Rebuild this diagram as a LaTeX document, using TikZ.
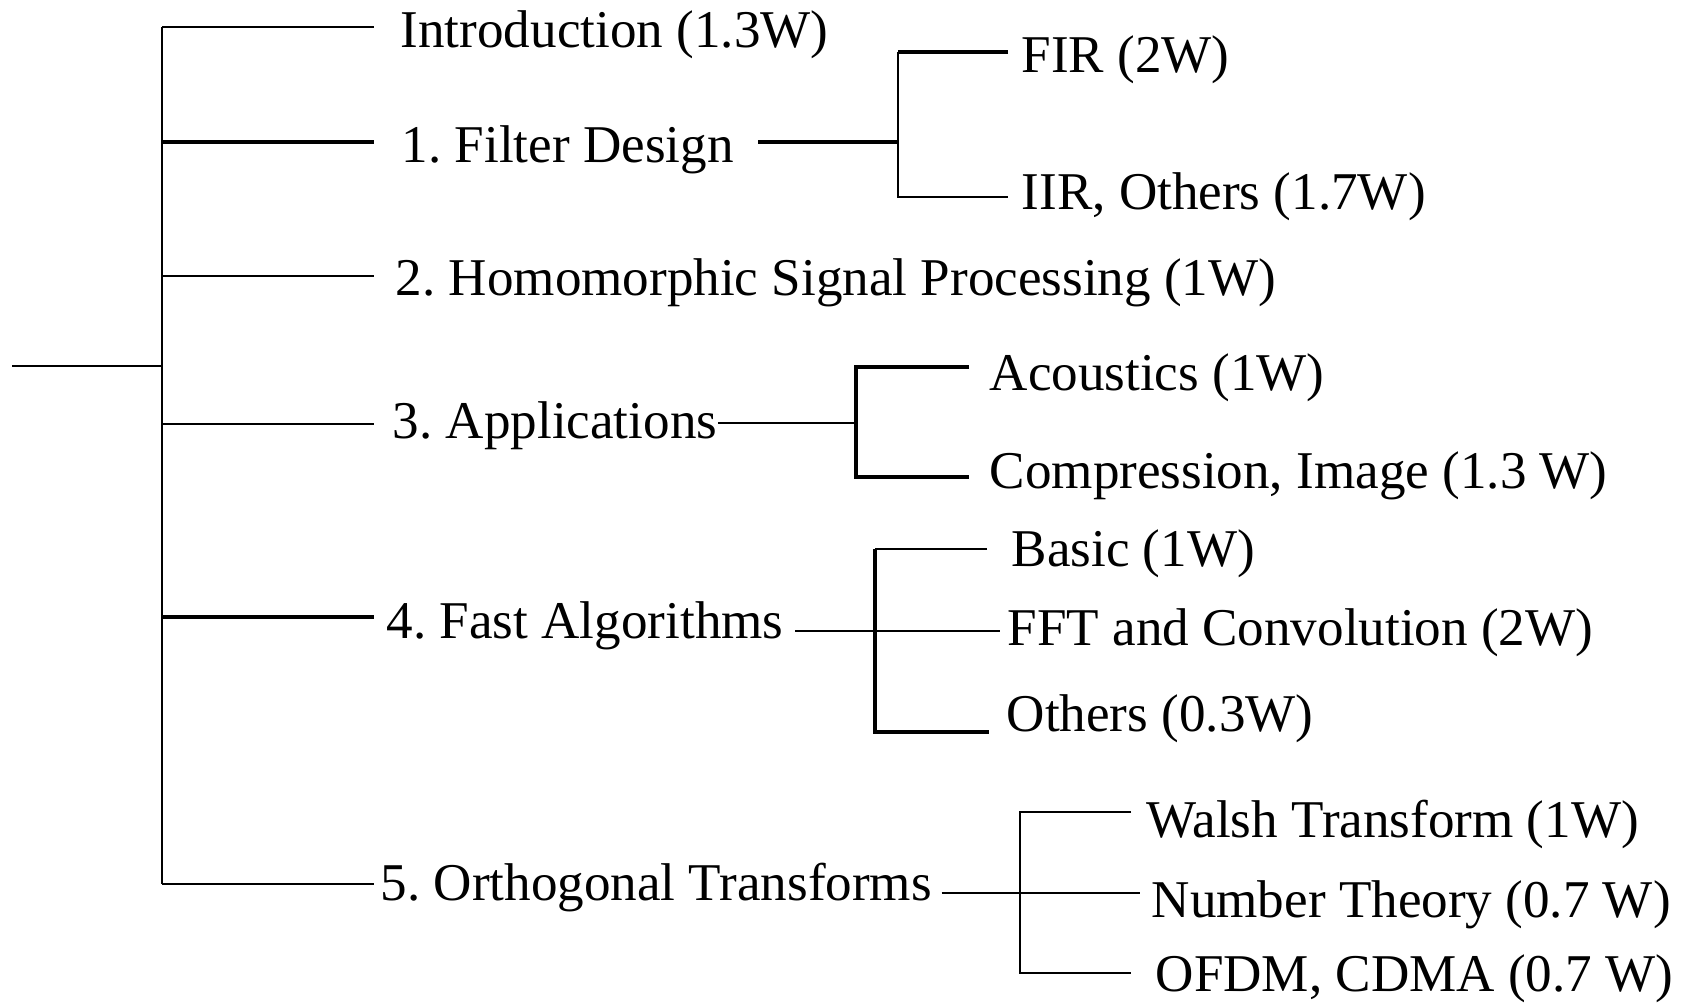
\documentclass[tikz,border=0pt]{standalone}
\usepackage{fontspec}
\setmainfont{Liberation Serif}
\usetikzlibrary{calc}
\frenchspacing

\tikzset{
    lbl/.style={anchor=base west, inner sep=0pt, font=\fontsize{15.1}{18}\selectfont},
    lnk/.style={line width=0.6pt, black},
    lnkb/.style={line width=0.9pt, black}
}

\begin{document}
\begin{tikzpicture}[x=0.01cm,y=-0.01cm]
        \useasboundingbox (0,0) rectangle (1683,1003);
        % main topics
        \node[lbl] (intro)  at (400,47)  {Introduction (1.3W)};
        \node[lbl] (filter) at (401,162) {1. Filter Design};
        \node[lbl] (homo)   at (395,295) {2. Homomorphic Signal Processing (1W)};
        \node[lbl] (appl)   at (392,438) {3. Applications};
        \node[lbl] (fast)   at (386,638) {4. Fast Algorithms};
        \node[lbl] (ortho)  at (380,900) {5. Orthogonal Transforms};
        % sub topics
        \node[lbl] (fir)   at (1021,72)  {FIR (2W)};
        \node[lbl] (iir)   at (1021,209) {IIR, Others (1.7W)};
        \node[lbl] (acou)  at (989,390)  {Acoustics (1W)};
        \node[lbl] (comp)  at (989,488)  {Compression, Image (1.3 W)};
        \node[lbl] (basic) at (1011,566) {Basic (1W)};
        \node[lbl] (fft)   at (1007,645) {FFT and Convolution (2W)};
        \node[lbl] (oth)   at (1006,731) {Others (0.3W)};
        \node[lbl] (walsh) at (1146,837) {Walsh Transform (1W)};
        \node[lbl] (numth) at (1151,917) {Number Theory (0.7 W)};
        \node[lbl] (ofdm)  at (1155,991) {OFDM, CDMA (0.7 W)};
        % trunk
        \coordinate (root) at (12,366);
        \coordinate (top) at (162,27);
        \coordinate (bot) at (162,884);
        \draw[lnk] (root) -- (top |- root);
        \draw[lnk] (top) -- (bot);
        \foreach \n/\y/\w in {intro/27/lnk, filter/142/lnkb, homo/276/lnk, appl/424/lnk, fast/617/lnkb, ortho/884/lnk} {
            \coordinate (\n-in) at (374,\y);
            \draw[\w] (top |- \n-in) -- (\n-in);
        }
        % 1
        \coordinate (fil-j) at (898,142);
        \coordinate (fir-in) at (1008,52);
        \coordinate (iir-in) at (1008,197);
        \draw[lnkb] ($(filter.east |- fil-j)+(24,0)$) -- (fil-j);
        \draw[lnkb] (fir-in) -- (fir-in -| fil-j);
        \draw[lnk] (fir-in -| fil-j) -- (iir-in -| fil-j) -- (iir-in);
        % 3
        \coordinate (app-j) at (856,423);
        \coordinate (acou-in) at (969,367);
        \coordinate (comp-in) at (969,477);
        \draw[lnk] (appl.east |- app-j) -- (app-j);
        \draw[lnkb] (acou-in) -- (acou-in -| app-j) -- (comp-in -| app-j) -- (comp-in);
        % 4
        \coordinate (fa-j) at (875,631);
        \coordinate (bas-in) at (987,549);
        \coordinate (oth-in) at (989,732);
        \draw[lnk, shorten >=2pt] ($(fast.east |- fa-j)+(11,0)$) -- (fft.west |- fa-j);
        \draw[lnk] (bas-in) -- (bas-in -| fa-j);
        \draw[lnkb] (bas-in -| fa-j) -- (oth-in -| fa-j) -- (oth-in);
        % 5
        \coordinate (or-j) at (1020,893);
        \coordinate (wal-in) at (1131,812);
        \coordinate (ofd-in) at (1131,973);
        \draw[lnk, shorten >=3pt] ($(ortho.east |- or-j)+(9,0)$) -- (numth.west |- or-j);
        \draw[lnk] (wal-in) -- (wal-in -| or-j) -- (ofd-in -| or-j) -- (ofd-in);
    \end{tikzpicture}
\end{document}
